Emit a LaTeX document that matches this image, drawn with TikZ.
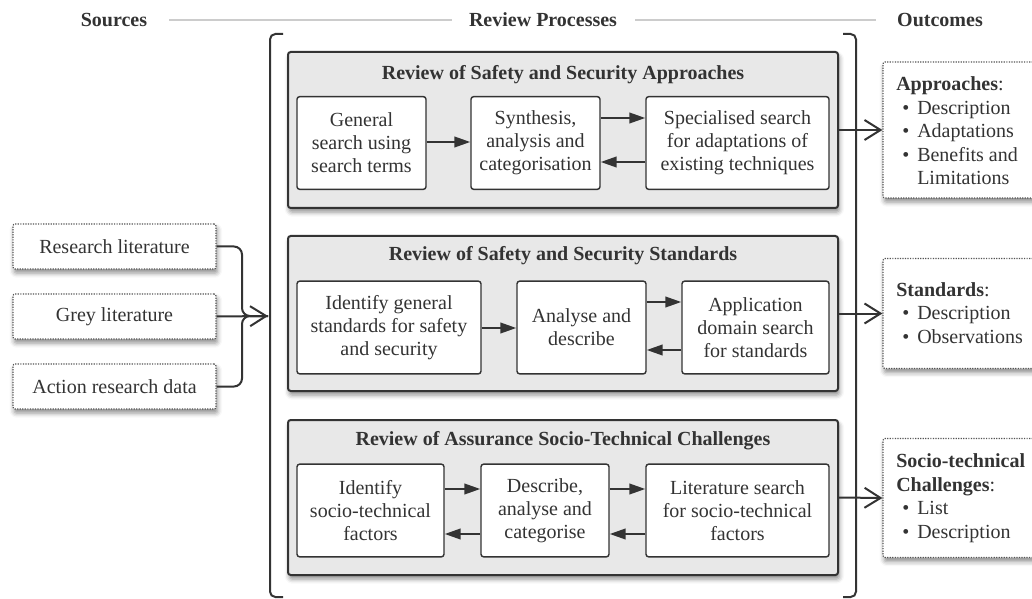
\documentclass[tikz,border=0pt]{standalone}
\usepackage{fontspec}
\setmainfont{Liberation Serif}
\usetikzlibrary{arrows.meta,shadows.blur,fit}
\definecolor{ink}{HTML}{333333}
\definecolor{panelfill}{HTML}{E8E8E8}
\definecolor{headrule}{HTML}{CCCCCC}
\definecolor{dotline}{HTML}{555555}
\newcommand{\bul}{\makebox[15.75pt][l]{\hspace{4.5pt}•}}
\begin{document}
\begin{tikzpicture}[x=0.75pt,y=-0.75pt,
  every node/.style={text=ink, font=\fontsize{15}{17.25}\selectfont},
  header/.style={font=\fontsize{15}{17.25}\selectfont\bfseries, inner sep=0pt},
  softshadow/.style={blur shadow={shadow xshift=1pt, shadow yshift=-3pt,
      shadow blur radius=3.5pt, shadow opacity=45}},
  panel/.style={draw=ink, line width=1.5pt, fill=panelfill, rounded corners=2pt,
      inner sep=0pt, softshadow},
  stepbox/.style={draw=ink, line width=1.1pt, fill=white, rounded corners=2pt,
      inner sep=0pt, align=center, minimum height=69.5pt},
  notebox/.style={draw=dotline, densely dotted, line width=0.9pt, fill=white,
      rounded corners=1.5pt, inner sep=0pt, softshadow},
  conn/.style={draw=ink, line width=1.5pt},
  flow/.style={conn, -{Triangle[length=12pt,width=8pt]}},
  feed/.style={conn, -{Straight Barb[length=12pt,width=15pt,line width=1.5pt]}},
  headline/.style={draw=headrule, line width=1.3pt},
  bracket/.style={draw=ink, line width=1.5pt, rounded corners=4pt}
]
\useasboundingbox (0,0) rectangle (1032,599);
\clip (0,0) rectangle (1032,599);

% column headers and rules
\node[header] (hs) at (114,20) {Sources};
\node[header] (hr) at (543,20) {Review Processes};
\node[header] (ho) at (940,20) {Outcomes};
\draw[headline, shorten <=16.5pt, shorten >=12.75pt] (hs) -- (hr);
\draw[headline, shorten <=13.5pt, shorten >=15.75pt] (hr) -- (ho);

% bracket around the review processes
\draw[bracket] (283,34) -- (270,34) -- (270,597) -- (283,597);
\draw[bracket] (843,34) -- (856,34) -- (856,597) -- (843,597);

% sources
\node[notebox, fit={(13,224) (216,269)}] (s1) {};
\node at (s1.center) {Research literature};
\node[notebox, fit={(13,294) (216,339)}] (s2) {};
\node at (s2.center) {Grey literature};
\node[notebox, fit={(13,364) (216,409)}] (s3) {};
\node at (s3.center) {Action research data};

\coordinate (join) at (242,316);
\coordinate (tip) at (268,316);
\draw[conn, rounded corners=6pt] (s1.east) -| (join) -- (tip);
\draw[conn, rounded corners=6pt] (s3.east) -| (join) -- (tip);
\draw[feed] (s2.east) -- (tip);

% panel 1: approaches
\node[panel, fit={(288,52) (838,208)}] (p1) {};
\node[header] (t1) at (563,75) {Review of Safety and Security Approaches};
\node[stepbox, minimum width=96.75pt] (a1) at (361.5,143) {General\\search using\\search terms};
\node[stepbox, minimum width=96.75pt] (a2) at (535.5,143) {Synthesis,\\analysis and\\categorisation};
\node[stepbox, minimum width=137.25pt] (a3) at (737.5,143) {Specialised search\\for adaptations of\\existing techniques};
\draw[flow] (a1.east |- 0,142) -- (a2.west |- 0,142);
\draw[flow] (a2.east |- 0,118) -- (a3.west |- 0,118);
\draw[flow] (a3.west |- 0,162) -- (a2.east |- 0,162);

% panel 2: standards
\node[panel, fit={(288,236) (838,391)}] (p2) {};
\node[header] (t2) at (563,256) {Review of Safety and Security Standards};
\node[stepbox, minimum width=138pt] (b1) at (389,327.5) {Identify general\\standards for safety\\and security};
\node[stepbox, minimum width=96.75pt] (b2) at (581.5,327.5) {Analyse and\\describe};
\node[stepbox, minimum width=110.25pt] (b3) at (755.5,327.5) {Application\\domain search\\for standards};
\draw[flow] (b1.east |- 0,328) -- (b2.west |- 0,328);
\draw[flow] (b2.east |- 0,302) -- (b3.west |- 0,302);
\draw[flow] (b3.west |- 0,350) -- (b2.east |- 0,350);

% panel 3: socio-technical challenges
\node[panel, fit={(288,420) (838,575)}] (p3) {};
\node[header] (t3) at (563,441) {Review of Assurance Socio-Technical Challenges};
\node[stepbox, minimum width=110.25pt] (c1) at (370.5,510.5) {Identify\\socio-technical\\factors};
\node[stepbox, minimum width=96pt] (c2) at (545,510.5) {Describe,\\analyse and\\categorise};
\node[stepbox, minimum width=137.25pt] (c3) at (737.5,510.5) {Literature search\\for socio-technical\\factors};
\draw[flow] (c1.east |- 0,489) -- (c2.west |- 0,489);
\draw[flow] (c2.east |- 0,489) -- (c3.west |- 0,489);
\draw[flow] (c3.west |- 0,534) -- (c2.east |- 0,534);
\draw[flow] (c2.west |- 0,534) -- (c1.east |- 0,534);

% outcomes
\node[notebox, fit={(883,62) (1050,198)}] (o1) {};
\node[notebox, fit={(883,258.5) (1050,368.5)}] (o2) {};
\node[notebox, fit={(883,438.5) (1050,557.5)}] (o3) {};
\node[anchor=west, align=left, inner sep=0pt,
      font=\fontsize{15}{17.6}\selectfont] (ot1) at (896,131)
  {\textbf{Approaches}:\\\bul Description\\\bul Adaptations\\\bul Benefits and\\\hspace*{15.75pt}Limitations};
\node[anchor=west, align=left, inner sep=0pt,
      font=\fontsize{15}{17.6}\selectfont] (ot2) at (896,313)
  {\textbf{Standards}:\\\bul Description\\\bul Observations};
\node[anchor=west, align=left, inner sep=0pt,
      font=\fontsize{15}{17.6}\selectfont] (ot3) at (896,498)
  {\textbf{Socio-technical}\\\textbf{Challenges}:\\\bul List\\\bul Description};

\draw[feed] (p1.east) -- (o1.west);
\draw[feed] (p2.east) -- (o2.west);
\draw[feed] (p3.east) -- (o3.west);
\end{tikzpicture}
\end{document}
